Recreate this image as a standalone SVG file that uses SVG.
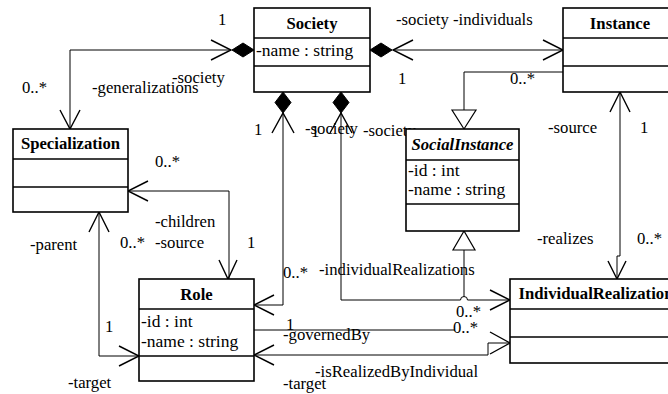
<svg xmlns="http://www.w3.org/2000/svg" width="668" height="394" viewBox="0 0 668 394">
  <style>
    .box { fill: #fff; stroke: #000; stroke-width: 1.6; }
    .sep { stroke: #000; stroke-width: 1.6; }
    .ln { fill: none; stroke: #000; stroke-width: 1; }
    .ah { fill: none; stroke: #000; stroke-width: 1.4; }
    .dia { fill: #000; stroke: #000; stroke-width: 1; }
    .tri { fill: #fff; stroke: #000; stroke-width: 1.2; }
    text { font-family: "Liberation Serif", "Times New Roman", serif; font-size: 16.7px; fill: #000; }
    .title { font-weight: bold; text-anchor: middle; }
    .ital { font-style: italic; }
    .attr { font-size: 17.5px; }
  </style>

  <!-- associations, generalizations and their end labels -->
  <g id="connectors">
    <!-- Society to Specialization (composition) -->
    <polyline class="ln" points="231,50 70,50 70,129"/>
    <polygon class="dia" points="254,50 243,43 232,50 243,57"/>
    <polyline class="ah" points="211,40 231,50 211,60"/>
    <polyline class="ah" points="60,110 70,129 80,110"/>
    <text x="218" y="25">1</text>
    <text x="172" y="83">-society</text>
    <text x="92" y="93">-generalizations</text>
    <text x="22" y="93">0..*</text>

    <!-- Society to Instance (composition) -->
    <polyline class="ln" points="393,50 563,50"/>
    <polygon class="dia" points="370,50 381,43 392,50 381,57"/>
    <polyline class="ah" points="413,40 393,50 413,60"/>
    <polyline class="ah" points="543,40 563,50 543,60"/>
    <text x="396" y="25">-society -individuals</text>
    <text x="398" y="84">1</text>
    <text x="510" y="84">0..*</text>

    <!-- SocialInstance generalizes to Instance -->
    <polyline class="ln" points="563,72 464,72 464,110"/>
    <polygon class="tri" points="452,110 476,110 464,129"/>

    <!-- Society to Role (composition) -->
    <polyline class="ln" points="283,113 283,305 254,305"/>
    <polygon class="dia" points="283,92 275,102.5 283,113 291,102.5"/>
    <polyline class="ah" points="272,133 283,113 294,133"/>
    <polyline class="ah" points="274,295 254,305 274,315"/>
    <text x="254" y="135">1</text>
    <text x="305" y="134">-society</text>
    <text x="283" y="278">0..*</text>

    <!-- Society to IndividualRealization (composition) -->
    <path class="ln" d="M341,113 V300 H460.5 A3.5,3.5 0 0 1 467.5,300 H510"/>
    <polygon class="dia" points="341,92 333,102.5 341,113 349,102.5"/>
    <polyline class="ah" points="330,133 341,113 352,133"/>
    <polyline class="ah" points="490,290 510,300 490,310"/>
    <text x="311" y="137">1</text>
    <text x="363" y="136">-society</text>
    <text x="319" y="275">-individualRealizations</text>
    <text x="456" y="317">0..*</text>

    <!-- IndividualRealization generalizes to SocialInstance -->
    <polyline class="ln" points="464,250 464,296.5"/>
    <polygon class="tri" points="464,231 453,250 475,250"/>

    <!-- Instance to IndividualRealization -->
    <polyline class="ln" points="620,92 620,256 617,256 617,279"/>
    <polyline class="ah" points="610,112 620,92 630,112"/>
    <polyline class="ah" points="608,261 617,279 626,261"/>
    <text x="548" y="133">-source</text>
    <text x="640" y="133">1</text>
    <text x="537" y="244">-realizes</text>
    <text x="637" y="244">0..*</text>

    <!-- Specialization children to Role -->
    <polyline class="ln" points="128,191 229,191 229,279"/>
    <polyline class="ah" points="148,181 128,191 148,201"/>
    <polyline class="ah" points="219,260 228,279 237,260"/>
    <text x="155" y="167">0..*</text>
    <text x="155" y="227">-children</text>
    <text x="155" y="248">-source</text>
    <text x="247" y="248">1</text>

    <!-- Specialization parent to Role -->
    <polyline class="ln" points="99,212 99,356 139,356"/>
    <polyline class="ah" points="89,232 99,212 109,232"/>
    <polyline class="ah" points="119,346 139,356 119,366"/>
    <text x="30" y="250">-parent</text>
    <text x="120" y="248">0..*</text>
    <text x="105" y="332">1</text>
    <text x="68" y="388">-target</text>

    <!-- Role governedBy -->
    <polyline class="ln" points="254,330 455,330"/>
    <text x="286" y="330">1</text>
    <text x="283" y="340">-governedBy</text>
    <text x="453" y="333">0..*</text>

    <!-- Role isRealizedByIndividual -->
    <polyline class="ln" points="254,355 488,355 488,343 510,343"/>
    <polyline class="ah" points="274,345 254,355 274,365"/>
    <polyline class="ah" points="490,332 510,343 490,354"/>
    <text x="315" y="377">-isRealizedByIndividual</text>
    <text x="283" y="389">-target</text>
  </g>

  <g id="Society">
    <rect class="box" x="254" y="8" width="116" height="84"/>
    <line class="sep" x1="254" y1="38" x2="370" y2="38"/>
    <line class="sep" x1="254" y1="66" x2="370" y2="66"/>
    <text class="title" x="312" y="29">Society</text>
    <text class="attr" x="256" y="56">-name : string</text>
  </g>

  <g id="Instance">
    <rect class="box" x="563" y="8" width="114" height="84"/>
    <line class="sep" x1="563" y1="38" x2="677" y2="38"/>
    <line class="sep" x1="563" y1="66" x2="677" y2="66"/>
    <text class="title" x="620" y="29">Instance</text>
  </g>

  <g id="Specialization">
    <rect class="box" x="13" y="129" width="115" height="83"/>
    <line class="sep" x1="13" y1="159" x2="128" y2="159"/>
    <line class="sep" x1="13" y1="187" x2="128" y2="187"/>
    <text class="title" x="70.5" y="149">Specialization</text>
  </g>

  <g id="SocialInstance">
    <rect class="box" x="406" y="129" width="113" height="102"/>
    <line class="sep" x1="406" y1="160" x2="519" y2="160"/>
    <line class="sep" x1="406" y1="204" x2="519" y2="204"/>
    <text class="title ital" x="462.5" y="150">SocialInstance</text>
    <text class="attr" x="408" y="176">-id : int</text>
    <text class="attr" x="408" y="195">-name : string</text>
  </g>

  <g id="Role">
    <rect class="box" x="139" y="279" width="115" height="102"/>
    <line class="sep" x1="139" y1="309" x2="254" y2="309"/>
    <line class="sep" x1="139" y1="356" x2="254" y2="356"/>
    <text class="title" x="196.5" y="300">Role</text>
    <text class="attr" x="141" y="327">-id : int</text>
    <text class="attr" x="141" y="347">-name : string</text>
  </g>

  <g id="IndividualRealization">
    <rect class="box" x="510" y="279" width="172" height="84"/>
    <line class="sep" x1="510" y1="309" x2="682" y2="309"/>
    <line class="sep" x1="510" y1="337" x2="682" y2="337"/>
    <text class="title" x="596" y="299">IndividualRealization</text>
  </g>
</svg>
